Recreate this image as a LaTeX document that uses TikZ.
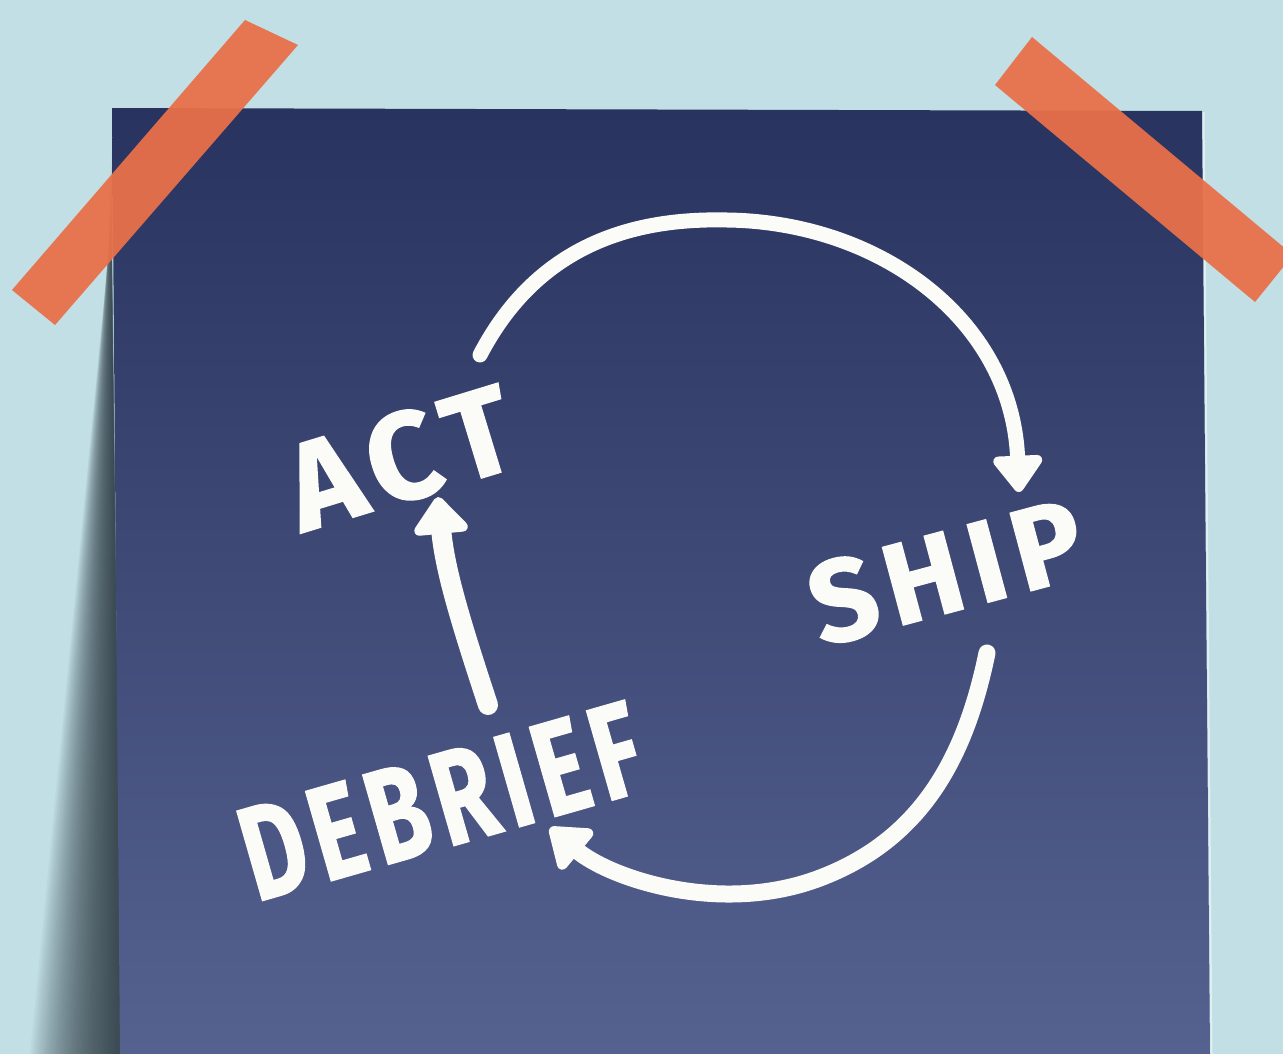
\documentclass[tikz,border=0pt]{standalone}
\usepackage{fontspec}
\setmainfont{Fira Sans}
\newfontfamily\brushfont{Fira Sans}[UprightFont=* Bold, FakeBold=1.2, LetterSpace=9]
\usetikzlibrary{arrows.meta}
\definecolor{bgblue}{HTML}{C1DFE5}
\definecolor{postertop}{HTML}{29335F}
\definecolor{posterbot}{HTML}{55618F}
\definecolor{tape}{HTML}{E8704A}
\definecolor{chalk}{HTML}{FBFBF8}
\definecolor{shadowc}{HTML}{26313A}
\begin{document}
\begin{tikzpicture}[x=1pt,y=-1pt,
  word/.style={text=chalk, inner sep=0pt},
  flow/.style={draw=chalk, line cap=round, line width=15pt},
  tapestrip/.style={fill=tape, opacity=0.95},
  ]
\useasboundingbox (0,0) rectangle (1283,1054);
\clip (0,0) rectangle (1283,1054);
% wall
\fill[bgblue] (0,0) rectangle (1283,1054);
% soft shadow at the left of the poster
\foreach \k in {1,...,40}{
  \fill[shadowc, opacity=0.04] (111,{150+2*\k}) -- (122,1054) -- ({122-2.3*\k},1054) -- cycle;
}
% poster
\shade[top color=postertop, bottom color=posterbot]
  (112,108) -- (1202,111) -- (1210,1054) -- (120,1054) -- cycle;
\draw[white, opacity=0.5, line width=2pt] (1203.5,112) -- (1211.5,1054);

% words
\node[word, rotate=17, font={\brushfont\fontsize{124}{124}\selectfont}] (act) at (400,458) {ACT};
\node[word, rotate=15, font={\brushfont\fontsize{116}{116}\selectfont}] (ship) at (946,572) {SHIP};
\node[word, rotate=16, font={\brushfont\fontsize{134}{134}\selectfont}] (debrief) at (441,801) {\scalebox{0.72}[1]{DEBRIEF}};

% connectors
\coordinate (actout) at (480,355);
\coordinate (shipin) at (1019,492);
\coordinate (shipout) at (987,653);
\coordinate (debin) at (550,828);
\coordinate (debout) at (488,705);
\coordinate (actin) at (438,497);

\draw[flow, -{Triangle[round,length=40pt,width=56pt]}]
  (actout) .. controls (540,240) and (640,218) .. (727,220)
  .. controls (880,222) and (1012,320) .. (shipin);
\draw[flow, line width=17pt, -{Triangle[round,length=42pt,width=58pt]}]
  (shipout) .. controls (965,760) and (920,840) .. (820,878)
  .. controls (720,916) and (610,878) .. (debin);
\draw[flow, line width=20pt, -{Triangle[round,length=40pt,width=62pt]}]
  (debout) .. controls (460,620) and (445,570) .. (actin);

% tapes
\fill[tapestrip] (245,20) -- (298,45) -- (55,325) -- (12,290) -- cycle;
\fill[tapestrip] (995,85) -- (1032,37) -- (1293,255) -- (1255,302) -- cycle;
\end{tikzpicture}
\end{document}
